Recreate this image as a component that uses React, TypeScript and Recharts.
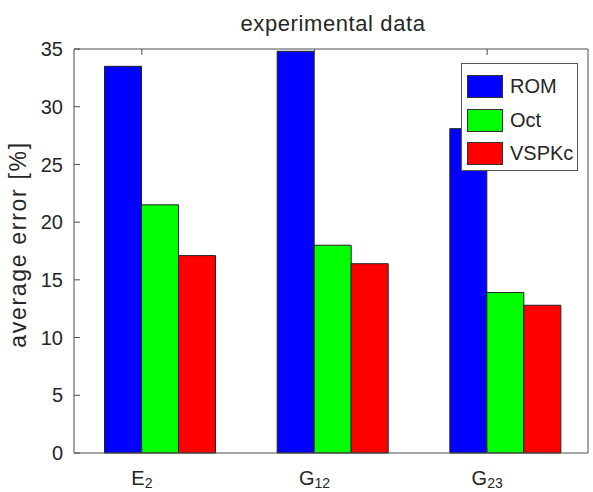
import React from 'react';
import { BarChart, Bar, XAxis, YAxis } from 'recharts';

const categories = ['E', 'G', 'G'];
const subscripts = ['2', '12', '23'];
const positions = [1, 2, 3];
const romValues = [33.5, 34.8, 28.1];
const octValues = [21.5, 18.0, 13.9];
const vspkcValues = [17.1, 16.4, 12.8];
const seriesNames = ['ROM', 'Oct', 'VSPKc'];
const seriesColors = ['#0000ff', '#00ff00', '#ff0000'];
const yTicks = [0, 5, 10, 15, 20, 25, 30, 35];
const titleText = 'experimental data';
const yLabelText = 'average error [%]';

const data = positions.map((p, i) => ({
  x: p,
  spacer: null as number | null,
  ROM: romValues[i],
  Oct: octValues[i],
  VSPKc: vspkcValues[i],
}));

const FONT = '"Liberation Sans", Arial, Helvetica, sans-serif';
const AXIS = '#4d4d4d';
const TEXT = '#262626';
const FS = 20;
const LFS = 22;

const XTick = (props: any) => {
  const { x, y, payload } = props;
  const i = positions.indexOf(payload.value);
  if (i < 0) return null;
  return (
    <text x={x} y={y} textAnchor="middle" fontFamily={FONT} fontSize={FS} fill={TEXT} dy={28}>
      <tspan>{categories[i]}</tspan>
      <tspan fontSize={14} dy={3}>{subscripts[i]}</tspan>
    </text>
  );
};

const LegendBox = () => (
  <div
    style={{
      position: 'absolute',
      left: 461,
      top: 63,
      width: 117,
      height: 108,
      border: '1px solid #555',
      background: '#fff',
      boxSizing: 'border-box',
      paddingTop: 6,
      paddingLeft: 5,
      fontFamily: FONT,
      fontSize: FS,
      color: TEXT,
    }}
  >
    {seriesNames.map((name, i) => (
      <div key={name} style={{ display: 'flex', alignItems: 'center', height: 33.5 }}>
        <div
          style={{
            width: 36,
            height: 23,
            background: seriesColors[i],
            border: '1px solid #333',
            boxSizing: 'border-box',
            marginRight: 7,
          }}
        />
        <span>{name}</span>
      </div>
    ))}
  </div>
);

export default function App() {
  return (
    <div style={{ position: 'absolute', left: 0, top: 0, width: 593, height: 492, background: '#fff' }}>
      <div
        style={{
          position: 'absolute',
          left: 83,
          width: 500,
          top: 12,
          textAlign: 'center',
          fontFamily: FONT,
          fontSize: LFS,
          color: TEXT,
          lineHeight: '24px',
          letterSpacing: 0.6,
          whiteSpace: 'nowrap',
        }}
      >
        {titleText}
      </div>
      <div
        style={{
          position: 'absolute',
          left: 17.5 - 150,
          top: 244 - 11.5,
          width: 300,
          height: 23,
          lineHeight: '23px',
          textAlign: 'center',
          transform: 'rotate(-90deg)',
          transformOrigin: '50% 50%',
          fontFamily: FONT,
          fontSize: 23,
          color: TEXT,
          letterSpacing: 1.7,
          whiteSpace: 'nowrap',
        }}
      >
        {yLabelText}
      </div>
      <BarChart
        width={593}
        height={492}
        data={data}
        margin={{ top: 48, right: 0, bottom: 0, left: 0 }}
        barGap={0}
        barSize={37}
        style={{ position: 'absolute', left: 0, top: 0 }}
      >
        <XAxis
          dataKey="x"
          type="number"
          domain={[0.607, 3.584]}
          allowDataOverflow
          ticks={positions}
          interval={0}
          height={39}
          tickSize={-6}
          tickMargin={10}
          stroke={AXIS}
          tick={<XTick />}
        />
        <XAxis
          xAxisId="top"
          dataKey="x"
          type="number"
          orientation="top"
          domain={[0.607, 3.584]}
          allowDataOverflow
          ticks={positions}
          interval={0}
          height={1}
          tickSize={-6}
          tickFormatter={() => ''}
          stroke={AXIS}
        />
        <YAxis
          type="number"
          domain={[0, 35]}
          ticks={yTicks}
          interval={0}
          width={74}
          tickSize={-6}
          tickMargin={17}
          stroke={AXIS}
          tick={{ fill: TEXT, fontSize: FS, fontFamily: FONT }}
        />
        <YAxis
          yAxisId="right"
          orientation="right"
          type="number"
          domain={[0, 35]}
          ticks={yTicks}
          interval={0}
          width={5}
          tickSize={-6}
          tickFormatter={() => ''}
          stroke={AXIS}
        />
        <Bar dataKey="spacer" legendType="none" fill="none" isAnimationActive={false} />
        <Bar dataKey="ROM" name={seriesNames[0]} fill={seriesColors[0]} stroke="#222" strokeWidth={1} isAnimationActive={false} />
        <Bar dataKey="Oct" name={seriesNames[1]} fill={seriesColors[1]} stroke="#222" strokeWidth={1} isAnimationActive={false} />
        <Bar dataKey="VSPKc" name={seriesNames[2]} fill={seriesColors[2]} stroke="#222" strokeWidth={1} isAnimationActive={false} />
      </BarChart>
      <LegendBox />
    </div>
  );
}
